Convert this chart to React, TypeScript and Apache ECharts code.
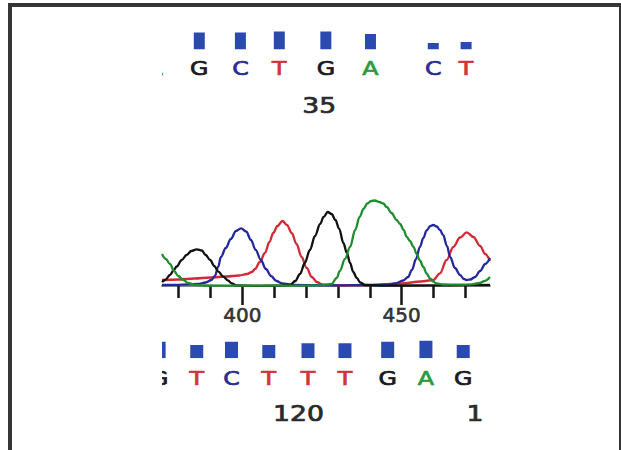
import React, { useEffect, useRef } from "react";
import * as echarts from "echarts";

// ---- Data ----
// Top strip (base calls that belong to the chromatogram)
const topBases = ["A", "G", "C", "T", "G", "A", "C", "T"];
const topBasePos = [372.6, 386.5, 399.4, 411.6, 426.2, 440.2, 459.9, 470.2];
const topQuality = [16, 17, 17, 18, 18, 15.5, 6.5, 7.5];
const topPosLabels = ["35"];
const topPosLabelAt = [424.1];

// Bottom strip (second sequence)
const bottomBases = ["G", "T", "C", "T", "T", "T", "G", "A", "G"];
const bottomBasePos = [373.9, 385.7, 396.6, 408.3, 420.6, 432.2, 445.6, 457.6, 469.3];
const bottomQuality = [16.6, 13.3, 16.6, 13.3, 15, 15, 16.6, 17.6, 13.3];
const bottomPosLabels = ["120", "1"];
const bottomPosLabelAt = [417.6, 473.0];

// Chromatogram traces [scan, signal]
const traceA: number[][] = [
  [374.8, 32], [376, 27], [377.3, 22], [378.6, 15], [379.9, 10], [381.5, 6], [383, 3], [385, 1.2],
  [388, 0.5], [400, 0.3], [415, 0.3], [425, 0.6], [428, 2], [429.6, 8], [430.6, 15], [432.2, 27],
  [433.8, 39], [435.4, 56], [436.8, 69], [438, 77], [439.2, 82.5], [440.4, 85], [441.6, 85.5],
  [443, 84], [444.2, 82.5], [445.3, 79], [446.8, 73], [448.4, 66], [449.5, 62], [450.6, 56],
  [451.6, 49], [452.6, 45], [453.7, 39], [454.7, 32], [455.7, 25.5], [456.8, 19], [457.8, 12.5],
  [458.9, 7.5], [459.9, 4.3], [461, 2.5], [463, 1.5], [468, 1.3], [472, 1.6], [474.5, 3],
  [476, 5], [477.7, 9],
];
const traceG: number[][] = [
  [374.8, 4], [375.8, 6], [377.3, 11], [378.5, 16], [379.4, 19.5], [381, 26], [382.5, 31],
  [384, 35], [385.7, 36.7], [387.3, 35.5], [388.5, 31], [389.9, 26], [391.2, 20], [392.5, 14.3],
  [394, 9.3], [395.5, 5.5], [396.7, 2.7], [398.2, 0.5], [405, 0.2], [412, 0.3], [415, 1.2],
  [416.6, 5], [418.1, 12], [419.6, 23], [421.2, 36], [422.8, 50], [424.4, 62], [425.5, 69],
  [426.8, 74], [428, 72], [429.2, 66], [430.4, 57], [431.7, 43], [432.8, 33], [433.8, 23],
  [434.8, 14], [435.9, 8], [437, 3.5], [438.5, 1], [445, 0.4], [460, 0.6], [470, 0.8], [477.7, 1],
];
const traceC: number[][] = [
  [374.8, 1], [380, 1.2], [386, 2], [388.5, 3.5], [390.3, 6], [391.4, 10], [392.4, 19],
  [393.3, 29], [394.8, 38], [396.4, 47], [398, 55], [399.6, 57.7], [401.2, 54.5], [402.7, 46],
  [404.2, 36], [405.8, 26], [407.4, 17], [409, 10], [410.7, 5], [412.5, 2.7], [416, 1.2],
  [430, 0.6], [445, 1], [448, 2.5], [450.5, 5.5], [452, 9], [453.2, 16], [454.5, 27], [455.7, 39],
  [456.8, 48], [457.8, 55.5], [459, 60], [459.9, 61], [461, 59.5], [462, 56], [463, 51],
  [464.2, 40], [465.2, 29], [466.7, 18], [468.3, 11], [469.5, 7], [470.4, 6], [471.5, 6.5],
  [473, 9], [474.6, 15], [476.2, 22], [477.7, 28],
];
const traceT: number[][] = [
  [374.8, 6], [380, 6.5], [385, 7.5], [390, 8.5], [395, 9.5], [399, 10.5], [401.5, 12], [403, 14],
  [404, 17], [405.5, 24], [407.1, 33], [408.5, 44], [409.7, 53], [411, 60], [412.6, 65], [414, 61],
  [415.5, 53], [417, 42], [418.6, 29], [420.2, 18], [421.8, 9], [423.4, 4], [425, 1.5], [430, 0.6],
  [440, 1], [450, 2.5], [456, 4.5], [459.9, 6], [462, 12.7], [464.1, 26], [466.2, 39],
  [468.3, 48.5], [470.4, 53.7], [472.5, 49], [474.6, 40], [476.2, 32], [477.7, 25],
];

const minorTicks = [380, 390, 410, 420, 430, 440, 460, 470];
const majorTicks = [400, 450];

// ---- Styling ----
const X_MIN = 374.8;
const X_MAX = 477.7;
const baseColor: Record<string, string> = {
  A: "#2c9a3c",
  C: "#2a2e8e",
  G: "#1a1a1a",
  T: "#d0343a",
};
const traceColor: Record<string, string> = {
  A: "#1f8c30",
  C: "#24289c",
  G: "#111111",
  T: "#d22a36",
};
const FONT = '"DejaVu Sans", "Noto Sans", sans-serif';
const BAR_COLOR = "#2a4ab2";

function textSeries(
  gridIdx: number,
  axisIdx: number,
  labels: string[],
  pos: number[],
  colored: boolean,
  size: number,
  sx: number
) {
  return {
    type: "custom",
    xAxisIndex: axisIdx,
    yAxisIndex: gridIdx,
    clip: true,
    data: pos.map((p) => [p, 0.5]),
    renderItem: (params: any, api: any) => {
      const pt = api.coord([api.value(0), api.value(1)]);
      const t = labels[params.dataIndex];
      const c = colored ? baseColor[t] : "#2a2a2a";
      return {
        type: "text",
        x: pt[0],
        y: pt[1],
        scaleX: sx,
        style: {
          text: t,
          fill: c,
          stroke: c,
          lineWidth: 0.7,
          fontSize: size,
          fontFamily: FONT,
          align: "center",
          verticalAlign: "middle",
        },
      };
    },
  };
}

function barSeries(gridIdx: number, axisIdx: number, pos: number[], vals: number[], w: number) {
  return {
    type: "custom",
    xAxisIndex: axisIdx,
    yAxisIndex: gridIdx,
    clip: true,
    data: pos.map((p, i) => [p, vals[i]]),
    renderItem: (params: any, api: any) => {
      const base = api.coord([api.value(0), 0]);
      const top = api.coord([api.value(0), api.value(1)]);
      return {
        type: "rect",
        shape: { x: base[0] - w / 2, y: top[1], width: w, height: base[1] - top[1] },
        style: { fill: BAR_COLOR },
      };
    },
  };
}

export default function App() {
  const ref = useRef<HTMLDivElement>(null);
  useEffect(() => {
    if (!ref.current) return;
    const chart = echarts.init(ref.current, undefined, { renderer: "svg" });
    const L = 162;
    const R = 621 - 490;
    const grids = [
      { left: L, right: R, top: 29.5, height: 20 }, // 0 top bars
      { left: L, right: R, top: 56, height: 25 }, // 1 top letters
      { left: L, right: R, top: 93, height: 26 }, // 2 top position
      { left: L, right: R, top: 186, height: 100 }, // 3 chromatogram
      { left: L, right: R, top: 338.3, height: 20 }, // 4 bottom bars
      { left: L, right: R, top: 366, height: 25 }, // 5 bottom letters
      { left: L, right: R, top: 401, height: 26 }, // 6 bottom position
    ];
    const hiddenX = (g: number) => ({
      gridIndex: g,
      type: "value",
      min: X_MIN,
      max: X_MAX,
      show: false,
    });
    const xAxis: any[] = [
      hiddenX(0),
      hiddenX(1),
      hiddenX(2),
      {
        gridIndex: 3,
        type: "value",
        min: X_MIN,
        max: X_MAX,
        axisLine: { show: true, onZero: false, lineStyle: { color: "#8a8a8a", width: 2 } },
        axisTick: { show: true, customValues: minorTicks, length: 12, lineStyle: { color: "#151515", width: 2.5 } },
        axisLabel: { show: false },
        splitLine: { show: false },
      },
      {
        gridIndex: 3,
        type: "value",
        position: "bottom",
        min: X_MIN,
        max: X_MAX,
        axisLine: { show: false },
        axisTick: { show: true, customValues: majorTicks, length: 19, lineStyle: { color: "#151515", width: 2.5 } },
        axisLabel: {
          show: true,
          customValues: majorTicks,
          margin: 19,
          color: "#333",
          fontSize: 20,
          fontFamily: FONT,
          textBorderColor: "#333",
          textBorderWidth: 0.6,
        },
        splitLine: { show: false },
      },
      hiddenX(4),
      hiddenX(5),
      hiddenX(6),
    ];
    const yAxis: any[] = [
      { gridIndex: 0, type: "value", min: 0, max: 20, show: false },
      { gridIndex: 1, type: "value", min: 0, max: 1, show: false },
      { gridIndex: 2, type: "value", min: 0, max: 1, show: false },
      { gridIndex: 3, type: "value", min: 0, max: 100, show: false },
      { gridIndex: 4, type: "value", min: 0, max: 20, show: false },
      { gridIndex: 5, type: "value", min: 0, max: 1, show: false },
      { gridIndex: 6, type: "value", min: 0, max: 1, show: false },
    ];
    const trace = (name: string, data: number[][]) => ({
      type: "line",
      name,
      xAxisIndex: 3,
      yAxisIndex: 3,
      data,
      showSymbol: false,
      smooth: 0.35,
      smoothMonotone: "x",
      lineStyle: { color: traceColor[name], width: 2.3 },
      clip: true,
    });
    chart.setOption({
      animation: false,
      backgroundColor: "#ffffff",
      grid: grids,
      xAxis,
      yAxis,
      series: [
        barSeries(0, 0, topBasePos, topQuality, 11),
        textSeries(1, 1, topBases, topBasePos, true, 19, 1.25),
        textSeries(2, 2, topPosLabels, topPosLabelAt, false, 20.5, 1.3),
        trace("T", traceT),
        trace("C", traceC),
        trace("G", traceG),
        trace("A", traceA),
        barSeries(4, 5, bottomBasePos, bottomQuality, 13),
        textSeries(5, 6, bottomBases, bottomBasePos, true, 19, 1.25),
        textSeries(6, 7, bottomPosLabels, bottomPosLabelAt, false, 20.5, 1.3),
      ],
      graphic: [
        {
          type: "rect",
          shape: { x: 10, y: 5, width: 611, height: 460 },
          style: { fill: "none", stroke: "#353535", lineWidth: 4 },
          silent: true,
        },
      ],
    });
    return () => chart.dispose();
  }, []);
  return (
    <div
      ref={ref}
      style={{ position: "fixed", left: 0, top: 0, width: 621, height: 450 }}
    />
  );
}
